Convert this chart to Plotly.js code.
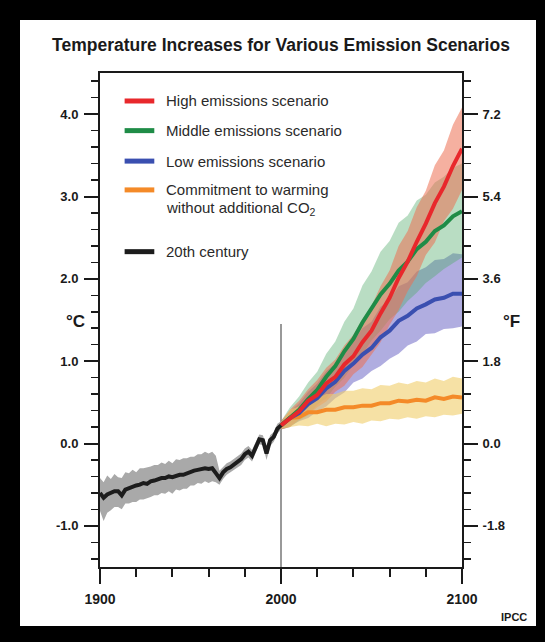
<!DOCTYPE html>
<html>
<head>
<meta charset="utf-8">
<script src="https://cdn.plot.ly/plotly-3.0.1.min.js"></script>
<style>
  html, body { margin: 0; padding: 0; background: #000; width: 545px; height: 642px; overflow: hidden; }
  #chart { position: absolute; left: 20px; top: 20px; width: 516px; height: 606px; background: #fff; }
</style>
</head>
<body>
<div id="chart"></div>
<script>
// ---------- DATA ----------
const years20 = [1900,1902,1904,1906,1908,1910,1912,1914,1916,1918,1920,1922,1924,1926,1928,1930,1932,1934,1936,1938,1940,1942,1944,1946,1948,1950,1952,1954,1956,1958,1960,1962,1964,1966,1968,1970,1972,1974,1976,1978,1980,1982,1984,1986,1988,1990,1992,1994,1996,1998,2000];
const temp20 = [-0.60,-0.66,-0.62,-0.60,-0.58,-0.58,-0.63,-0.56,-0.54,-0.53,-0.51,-0.50,-0.48,-0.49,-0.46,-0.45,-0.43,-0.42,-0.42,-0.40,-0.41,-0.39,-0.38,-0.38,-0.36,-0.34,-0.33,-0.32,-0.31,-0.30,-0.31,-0.30,-0.36,-0.42,-0.35,-0.31,-0.29,-0.26,-0.22,-0.19,-0.13,-0.10,-0.15,-0.04,0.05,0.04,-0.12,0.04,0.08,0.18,0.22];
const temp20Hi = [-0.42,-0.47,-0.39,-0.43,-0.37,-0.41,-0.42,-0.35,-0.36,-0.32,-0.35,-0.30,-0.30,-0.29,-0.28,-0.26,-0.26,-0.23,-0.25,-0.21,-0.24,-0.19,-0.20,-0.18,-0.18,-0.16,-0.16,-0.13,-0.13,-0.10,-0.12,-0.10,-0.15,-0.33,-0.28,-0.24,-0.22,-0.19,-0.15,-0.12,-0.06,-0.03,-0.08,0.02,0.11,0.10,-0.05,0.10,0.14,0.24,0.27];
const temp20Lo = [-0.82,-0.94,-0.84,-0.81,-0.77,-0.77,-0.80,-0.73,-0.73,-0.71,-0.71,-0.68,-0.68,-0.67,-0.65,-0.63,-0.63,-0.60,-0.61,-0.58,-0.61,-0.56,-0.57,-0.55,-0.55,-0.51,-0.51,-0.48,-0.49,-0.46,-0.48,-0.46,-0.47,-0.50,-0.43,-0.38,-0.36,-0.33,-0.29,-0.26,-0.20,-0.17,-0.22,-0.11,-0.01,-0.02,-0.20,-0.03,0.02,0.12,0.17];

const yearsF = [2000,2005,2010,2015,2020,2025,2030,2035,2040,2045,2050,2055,2060,2065,2070,2075,2080,2085,2090,2095,2100];

const highMid = [0.22,0.31,0.39,0.52,0.59,0.73,0.81,0.96,1.06,1.23,1.37,1.58,1.77,2.01,2.21,2.45,2.67,2.92,3.12,3.37,3.58];
const highHi  = [0.27,0.41,0.52,0.66,0.77,0.92,1.02,1.19,1.32,1.51,1.67,1.91,2.10,2.40,2.58,2.87,3.07,3.38,3.56,3.87,4.08];
const highLo  = [0.17,0.20,0.29,0.35,0.44,0.51,0.63,0.70,0.84,0.93,1.08,1.23,1.44,1.62,1.85,2.03,2.29,2.44,2.70,2.85,3.08];

const midMid = [0.22,0.32,0.41,0.54,0.65,0.81,0.94,1.12,1.27,1.47,1.63,1.81,1.94,2.10,2.21,2.36,2.45,2.58,2.65,2.76,2.82];
const midHi  = [0.27,0.44,0.57,0.74,0.87,1.09,1.24,1.48,1.64,1.92,2.09,2.33,2.46,2.68,2.77,2.95,3.02,3.17,3.24,3.35,3.40];
const midLo  = [0.17,0.20,0.28,0.34,0.47,0.55,0.69,0.80,0.96,1.08,1.25,1.37,1.51,1.60,1.73,1.83,1.95,2.03,2.12,2.19,2.26];

const lowMid = [0.22,0.31,0.37,0.48,0.55,0.67,0.75,0.88,0.97,1.08,1.16,1.29,1.37,1.49,1.55,1.64,1.69,1.75,1.77,1.82,1.82];
const lowHi  = [0.27,0.39,0.49,0.63,0.73,0.88,0.97,1.14,1.24,1.40,1.48,1.66,1.74,1.91,1.96,2.09,2.14,2.23,2.24,2.31,2.30];
const lowLo  = [0.17,0.21,0.27,0.31,0.39,0.45,0.55,0.62,0.74,0.79,0.88,0.94,1.03,1.09,1.19,1.24,1.33,1.34,1.39,1.40,1.42];

const comMid = [0.22,0.31,0.32,0.38,0.38,0.41,0.41,0.44,0.44,0.46,0.46,0.49,0.49,0.52,0.51,0.53,0.52,0.56,0.54,0.57,0.56];
const comHi  = [0.26,0.41,0.45,0.53,0.55,0.60,0.60,0.64,0.64,0.67,0.66,0.71,0.70,0.74,0.72,0.76,0.74,0.79,0.76,0.81,0.79];
const comLo  = [0.18,0.20,0.22,0.21,0.24,0.21,0.24,0.23,0.26,0.24,0.28,0.27,0.30,0.29,0.32,0.30,0.33,0.32,0.35,0.34,0.36];

const yTickVals  = [-1, 0, 1, 2, 3, 4];
const cTickText  = ['-1.0', '0.0', '1.0', '2.0', '3.0', '4.0'];
const fTickText  = ['-1.8', '0.0', '1.8', '3.6', '5.4', '7.2'];
const xTickVals  = [1900, 2000, 2100];
const xTickText  = ['1900', '2000', '2100'];

const legendLabels = ['High emissions scenario', 'Middle emissions scenario', 'Low emissions scenario',
                      'Commitment to warming', 'without additional CO<sub>2</sub>', '20th century'];

// ---------- STYLE ----------
const FONT = 'Liberation Sans, Arial, Helvetica, sans-serif';
const C = {
  red: '#e8282c', green: '#1f8c47', blue: '#3a4fb0', orange: '#f48a28', black: '#1c1c1c',
  redBand: 'rgba(236,112,82,0.55)', greenBand: 'rgba(80,170,105,0.40)',
  blueBand: 'rgba(104,98,196,0.52)', orangeBand: 'rgba(240,205,105,0.60)', grayBand: '#a9a9a9'
};

function band(x, hi, lo, color) {
  return {
    x: x.concat(x.slice().reverse()),
    y: hi.concat(lo.slice().reverse()),
    type: 'scatter', mode: 'lines', fill: 'toself', fillcolor: color,
    line: { width: 0 }, hoverinfo: 'skip', showlegend: false
  };
}
function line(x, y, color, w) {
  return { x: x, y: y, type: 'scatter', mode: 'lines',
           line: { color: color, width: w, shape: 'linear' }, showlegend: false, hoverinfo: 'skip' };
}

const traces = [
  band(yearsF, lowHi, lowLo, C.blueBand),
  band(yearsF, midHi, midLo, C.greenBand),
  band(yearsF, highHi, highLo, C.redBand),
  band(yearsF, comHi, comLo, C.orangeBand),
  band(years20, temp20Hi, temp20Lo, C.grayBand),
  line(yearsF, comMid, C.orange, 4),
  line(yearsF, lowMid, C.blue, 4),
  line(yearsF, midMid, C.green, 4),
  line(yearsF, highMid, C.red, 4),
  line(years20, temp20, C.black, 4),
  // invisible trace to activate the right (°F) axis
  { x: [1900, 2100], y: [0, 0], yaxis: 'y2', type: 'scatter', mode: 'lines',
    line: { width: 0 }, opacity: 0, showlegend: false, hoverinfo: 'skip' }
];

// legend built from shapes + annotations
const legColors = [C.red, C.green, C.blue, C.orange, null, C.black];
const legY = [4.16, 3.80, 3.43, 3.08, 2.86, 2.33];
const shapes = [
  { type: 'line', xref: 'x', yref: 'y', x0: 2000, x1: 2000, y0: -1.5, y1: 1.45,
    line: { color: '#555', width: 1.2 }, layer: 'below' }
];
const annotations = [];
legendLabels.forEach((lab, i) => {
  if (legColors[i]) {
    shapes.push({ type: 'line', xref: 'paper', yref: 'y', x0: 0.068, x1: 0.150, y0: legY[i], y1: legY[i],
                  line: { color: legColors[i], width: 5 } });
  }
  annotations.push({ xref: 'paper', yref: 'y', x: 0.177, y: legY[i], xanchor: 'left', yanchor: 'middle',
                     text: lab, showarrow: false, font: { family: FONT, size: 15, color: '#2a2a2a' } });
});
annotations.push({ xref: 'paper', yref: 'paper', x: -0.068, y: 0.496, text: '°C', showarrow: false,
                   xanchor: 'center', yanchor: 'middle', font: { family: FONT, size: 17, color: '#1a1a1a', weight: 'bold' } });
annotations.push({ xref: 'paper', yref: 'paper', x: 1.138, y: 0.496, text: '°F', showarrow: false,
                   xanchor: 'center', yanchor: 'middle', font: { family: FONT, size: 17, color: '#1a1a1a', weight: 'bold' } });
annotations.push({ xref: 'paper', yref: 'paper', x: 1.144, y: -0.101, text: 'IPCC', showarrow: false,
                   xanchor: 'center', yanchor: 'middle', font: { family: FONT, size: 11, color: '#1a1a1a', weight: 'bold' } });

const yCommon = {
  range: [-1.5, 4.5], tickmode: 'array', tickvals: yTickVals,
  ticks: 'outside', ticklen: 14, tickwidth: 2, tickcolor: '#1a1a1a',
  showline: true, linecolor: '#1a1a1a', linewidth: 2,
  showgrid: false, zeroline: false, fixedrange: true,
  tickfont: { family: FONT, size: 13, color: '#1a1a1a', weight: 'bold' },
  minor: { tickmode: 'linear', tick0: 0, dtick: 0.2, ticks: 'outside', ticklen: 7, tickwidth: 1.5, tickcolor: '#1a1a1a', showgrid: false }
};

const layout = {
  width: 516, height: 606,
  margin: { l: 80, r: 74, t: 53, b: 59, pad: 0 },
  paper_bgcolor: '#ffffff', plot_bgcolor: '#ffffff',
  showlegend: false, hovermode: false,
  title: { text: 'Temperature Increases for Various Emission Scenarios',
           x: 0.5, xref: 'paper', xanchor: 'center', y: 0.959, yref: 'container', yanchor: 'middle',
           font: { family: FONT, size: 17.5, color: '#1a1a1a', weight: 'bold' } },
  xaxis: {
    range: [1900, 2100], tickmode: 'array', tickvals: xTickVals, ticktext: xTickText,
    ticks: 'outside', ticklen: 15, tickwidth: 2, tickcolor: '#1a1a1a',
    showline: true, mirror: true, linecolor: '#1a1a1a', linewidth: 2,
    showgrid: false, zeroline: false, fixedrange: true, ticklabelstandoff: 3,
    tickfont: { family: FONT, size: 14, color: '#1a1a1a', weight: 'bold' },
    minor: { tickmode: 'linear', tick0: 1900, dtick: 20, ticks: 'outside', ticklen: 8, tickwidth: 2, tickcolor: '#1a1a1a', showgrid: false }
  },
  yaxis: Object.assign({}, yCommon, { ticktext: cTickText, side: 'left', ticklabelstandoff: 3 }),
  yaxis2: Object.assign({}, yCommon, { ticktext: fTickText, side: 'right', overlaying: 'y', ticklabelstandoff: 2 }),
  shapes: shapes,
  annotations: annotations
};

Plotly.newPlot('chart', traces, layout, { displayModeBar: false, staticPlot: true });
</script>
</body>
</html>
